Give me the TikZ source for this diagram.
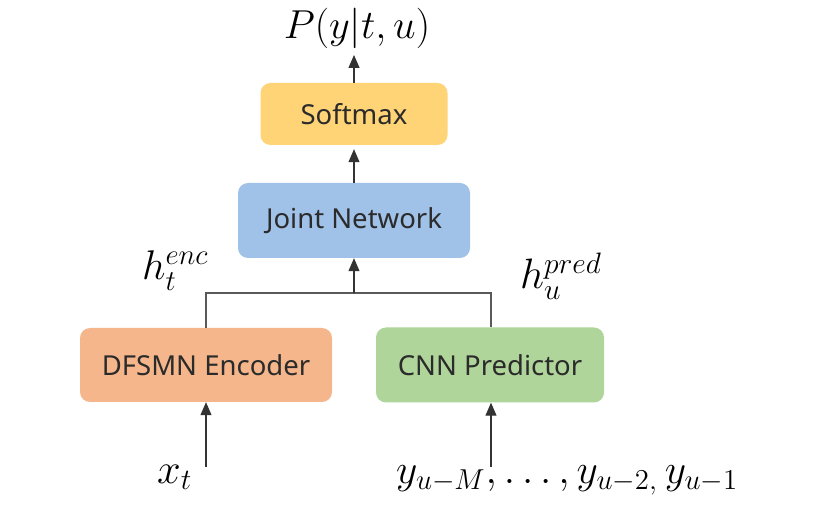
\documentclass[tikz,border=0pt]{standalone}
\usepackage[no-math]{fontspec}
\setmainfont{Noto Sans}
\usetikzlibrary{arrows.meta}
\definecolor{cSoft}{HTML}{FFD476}
\definecolor{cJoint}{HTML}{A0C1E8}
\definecolor{cEnc}{HTML}{F4B68A}
\definecolor{cPred}{HTML}{B0D59A}
\definecolor{cLine}{HTML}{595959}
\definecolor{cText}{HTML}{2B2B2B}
\newcommand{\bigmath}[2]{\fontsize{20}{24}\selectfont\scalebox{#1}{$#2$}}
\begin{document}
\begin{tikzpicture}[x=1pt,y=-1pt,
  blockbox/.style={rounded corners=10pt, draw=none, inner sep=0pt, text=cText,
    font=\fontsize{27.5}{32}\selectfont},
  arr/.style={draw=black!80, line width=1.1pt, -{Triangle[width=11pt,length=13pt]}},
  plainline/.style={draw=cLine, line width=1.1pt},
  mathlbl/.style={inner sep=0pt, anchor=base west}
]
\useasboundingbox (0,0) rectangle (814,526);
\fill[white] (0,0) rectangle (814,526);

\node[blockbox, fill=cSoft, minimum width=187pt, minimum height=62pt] (soft) at (354,114) {Softmax};
\node[blockbox, fill=cJoint, minimum width=232pt, minimum height=75pt] (joint) at (354,220.5) {Joint Network};
\node[blockbox, fill=cEnc, minimum width=252pt, minimum height=74pt] (enc) at (206,365) {DFSMN Encoder};
\node[blockbox, fill=cPred, minimum width=228pt, minimum height=75pt] (pred) at (490,365) {CNN Predictor};

\node[inner sep=0pt, anchor=base] (out) at (357,39) {\bigmath{1.95}{P(y|t,u)}};
\node[mathlbl] (henc) at (142,280) {\bigmath{2.0}{h_t^{enc}}};
\node[mathlbl] (hpred) at (520,289) {\bigmath{2.05}{h_u^{pred}}};
\node[mathlbl] (xt) at (157,483) {\bigmath{2.05}{x_t}};
\node[mathlbl] (ys) at (396,483) {\bigmath{2.0}{y_{u-M}, \ldots, y_{u-2,}\,y_{u-1}}};

\coordinate (outtip) at (354,55);
\coordinate (junc) at (354,293);
\coordinate (xtop) at (206,467);
\coordinate (ytop) at (491,467);

\draw[arr] (soft.north) -- (outtip);
\draw[arr, shorten >=4pt] (joint.north) -- (soft.south);
\draw[plainline] (enc.north) |- (junc) -| (pred.north -| ytop);
\draw[arr] (junc) -- (joint.south);
\draw[arr] (xtop) -- (enc.south);
\draw[arr] (ytop) -- (ytop |- pred.south);
\end{tikzpicture}
\end{document}
